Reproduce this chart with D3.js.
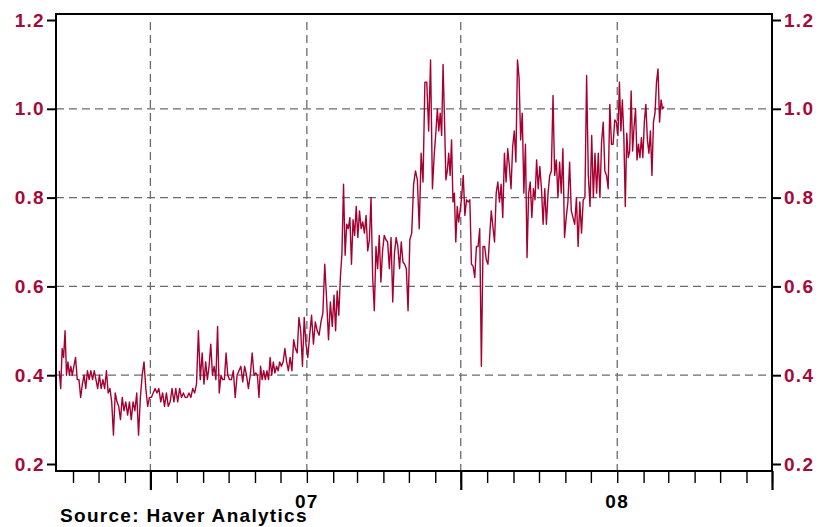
<!DOCTYPE html>
<html>
<head>
<meta charset="utf-8">
<script src="https://cdn.jsdelivr.net/npm/d3@7"></script>
<style>
  html, body { margin: 0; padding: 0; background: #fff; }
  #chart text { font-family: "Liberation Sans", Arial, sans-serif; font-weight: bold; }
</style>
</head>
<body>
<div id="chart"></div>
<script>
// daily readings, one small array per month
const months = ['2006-03', '2006-04', '2006-05', '2006-06', '2006-07', '2006-08', '2006-09', '2006-10',
  '2006-11', '2006-12', '2007-01', '2007-02', '2007-03', '2007-04', '2007-05', '2007-06', '2007-07',
  '2007-08', '2007-09', '2007-10', '2007-11', '2007-12', '2008-01', '2008-02'];

const mar06 = [0.41, 0.37, 0.46, 0.44, 0.50, 0.40, 0.43, 0.40, 0.42, 0.40];
const apr06 = [0.42, 0.44, 0.39, 0.39, 0.35, 0.38, 0.40, 0.37, 0.41, 0.39, 0.41, 0.39, 0.41, 0.39, 0.37];
const may06 = [0.40, 0.37, 0.39, 0.37, 0.41, 0.36, 0.37, 0.34, 0.265, 0.36, 0.34, 0.33, 0.30, 0.35, 0.32];
const jun06 = [0.34, 0.31, 0.34, 0.30, 0.34, 0.32, 0.36, 0.265, 0.35, 0.40, 0.43, 0.37, 0.33, 0.35];
const jul06 = [0.35, 0.36, 0.37, 0.36, 0.37, 0.34, 0.36, 0.33, 0.36, 0.33, 0.34, 0.37, 0.34, 0.37];
const aug06 = [0.34, 0.37, 0.35, 0.36, 0.35, 0.35, 0.36, 0.35, 0.37, 0.36, 0.38, 0.50, 0.39, 0.45];
const sep06 = [0.38, 0.43, 0.39, 0.42, 0.47, 0.40, 0.42, 0.39, 0.51, 0.36, 0.40, 0.39, 0.39, 0.45, 0.40];
const oct06 = [0.39, 0.39, 0.41, 0.35, 0.40, 0.41, 0.42, 0.385, 0.42, 0.40, 0.37, 0.40, 0.45, 0.40];
const nov06 = [0.405, 0.40, 0.35, 0.42, 0.39, 0.41, 0.39, 0.41, 0.39, 0.44, 0.40, 0.43, 0.405, 0.42, 0.41, 0.43];
const dec06 = [0.42, 0.43, 0.46, 0.43, 0.41, 0.44, 0.41, 0.48, 0.46, 0.45, 0.53, 0.50, 0.42, 0.53, 0.47];
const jan07 = [0.44, 0.49, 0.535, 0.47, 0.52, 0.50, 0.49, 0.52, 0.54, 0.65, 0.57, 0.48, 0.565, 0.51];
const feb07 = [0.58, 0.50, 0.59, 0.535, 0.62, 0.675, 0.83, 0.67, 0.74, 0.73, 0.755, 0.65, 0.75, 0.715, 0.78];
const mar07 = [0.71, 0.77, 0.73, 0.745, 0.72, 0.76, 0.68, 0.705, 0.80, 0.62, 0.545, 0.69, 0.64, 0.715, 0.61, 0.68];
const apr07 = [0.715, 0.705, 0.70, 0.64, 0.71, 0.565, 0.675, 0.71, 0.69, 0.64, 0.70, 0.655, 0.65, 0.64, 0.545];
const may07 = [0.705, 0.72, 0.83, 0.86, 0.84, 0.73, 0.90, 0.835, 1.06, 1.06, 0.95, 1.11, 0.82, 0.90];
const jun07 = [0.95, 1.00, 0.95, 0.99, 0.94, 1.10, 0.98, 0.84, 0.86, 0.90, 0.85, 0.93, 0.79, 0.81, 0.70, 0.78, 0.745, 0.77];
const jul07 = [0.80, 0.85, 0.76, 0.795, 0.79, 0.795, 0.65, 0.645, 0.62, 0.69, 0.69, 0.73, 0.42, 0.69, 0.69, 0.66];
const aug07 = [0.65, 0.71, 0.77, 0.735, 0.70, 0.81, 0.835, 0.79, 0.83, 0.755, 0.90, 0.835, 0.91, 0.87, 0.82, 0.915];
const sep07 = [0.95, 0.88, 1.11, 1.07, 0.93, 0.99, 0.81, 0.92, 0.665, 0.81, 0.835, 0.755, 0.82, 0.795, 0.885, 0.82];
const oct07 = [0.87, 0.82, 0.74, 0.82, 0.74, 0.81, 0.85, 0.86, 1.03, 0.85, 0.885, 0.80, 0.88, 0.81, 0.91, 0.71];
const nov07 = [0.755, 0.79, 0.88, 0.77, 0.755, 0.74, 0.80, 0.69, 0.79, 0.72, 0.795, 0.80, 1.075, 0.85, 0.78];
const dec07 = [0.94, 0.80, 0.90, 0.81, 0.90, 0.80, 0.925, 0.97, 0.86, 0.85, 0.82, 1.01, 0.92, 0.92, 0.975, 0.97];
const jan08 = [0.94, 1.06, 0.95, 1.02, 0.94, 0.78, 0.945, 0.89, 0.905, 1.04, 0.905, 0.96, 1.00, 0.885, 0.92, 0.89, 0.935, 0.89];
const feb08 = [0.97, 1.01, 0.93, 0.90, 0.95, 0.85, 0.97, 0.99, 1.06, 1.09, 0.97, 1.02, 1.00, 1.005];

const monthValues = [mar06, apr06, may06, jun06, jul06, aug06, sep06, oct06, nov06, dec06,
  jan07, feb07, mar07, apr07, may07, jun07, jul07, aug07, sep07, oct07, nov07, dec07, jan08, feb08];

const dataStart = '2006-03-15';
const dataEnd = '2008-02-26';
const axisStart = '2006-03-12';
const axisEnd = '2008-07-01';

const yTicks = [0.2, 0.4, 0.6, 0.8, 1.0, 1.2];
const yGrid = [0.4, 0.6, 0.8, 1.0];
const xGrid = ['2006-07-01', '2007-01-01', '2007-07-01', '2008-01-01'];
const yearTicks = ['2007-01-01', '2008-01-01'];
const yearLabels = ['07', '08'];

const red = '#a6093a';
const lineRed = '#a60030';
const parseDay = d3.timeParse('%Y-%m-%d');
const parseMonth = d3.timeParse('%Y-%m');

// spread each month's readings evenly over the days it covers
const start = parseDay(dataStart);
const end = parseDay(dataEnd);
const points = [];
months.forEach((m, i) => {
  const m0 = parseMonth(m);
  const m1 = d3.timeMonth.offset(m0, 1);
  const s = Math.max(+m0, +start);
  const e = Math.min(+m1, +end);
  const vals = monthValues[i];
  vals.forEach((v, j) => {
    points.push({ date: new Date(s + ((j + 0.5) / vals.length) * (e - s)), value: v });
  });
});

const container = d3.select('#chart');

function draw() {
  container.html('');

  var margin = { top: 14, right: 49, bottom: 56, left: 56 };
  var width = 821 - margin.left - margin.right;
  var height = 527 - margin.top - margin.bottom;

  var svg = container
    .append('svg')
    .attr('width', 821)
    .attr('height', 527)
    .append('g')
    .attr('transform', 'translate(' + margin.left + ',' + margin.top + ')');

  var x = d3.scaleTime()
    .domain([parseDay(axisStart), parseDay(axisEnd)])
    .range([0, width]);

  // 1.2 and 0.2 sit a little inside the frame
  var y = d3.scaleLinear()
    .domain([0.2, 1.2])
    .range([height - 7, 6]);

  // dashed grid
  svg.append('g')
    .selectAll('line')
    .data(yGrid)
    .join('line')
    .attr('x1', 0)
    .attr('x2', width)
    .attr('y1', d => y(d))
    .attr('y2', d => y(d))
    .style('stroke', '#6b6b6b')
    .style('stroke-width', 1.3)
    .style('stroke-dasharray', '8,5');

  svg.append('g')
    .selectAll('line')
    .data(xGrid.map(parseDay))
    .join('line')
    .attr('x1', d => x(d))
    .attr('x2', d => x(d))
    .attr('y1', 8)
    .attr('y2', height)
    .style('stroke', '#6b6b6b')
    .style('stroke-width', 1.3)
    .style('stroke-dasharray', '8,5');

  // the series
  var line = d3.line()
    .x(d => x(d.date))
    .y(d => y(d.value));

  svg.append('path')
    .datum(points)
    .attr('d', line)
    .style('fill', 'none')
    .style('stroke', lineRed)
    .style('stroke-width', 1.4)
    .style('stroke-linejoin', 'round');

  // frame
  svg.append('rect')
    .attr('x', 0)
    .attr('y', 0)
    .attr('width', width)
    .attr('height', height)
    .style('fill', 'none')
    .style('stroke', '#000')
    .style('stroke-width', 2);

  // y axes, left and right
  var fmt = d3.format('.1f');
  var left = svg.append('g')
    .call(d3.axisLeft(y).tickValues(yTicks).tickFormat(fmt).tickSize(9).tickPadding(2));
  var right = svg.append('g')
    .attr('transform', 'translate(' + width + ',0)')
    .call(d3.axisRight(y).tickValues(yTicks).tickFormat(fmt).tickSize(9).tickPadding(3));

  [left, right].forEach(g => {
    g.select('.domain').remove();
    g.selectAll('line').style('stroke', '#000').style('stroke-width', 2);
    g.selectAll('text')
      .style('fill', red)
      .style('font-size', '19px')
      .style('letter-spacing', '1.3px');
  });

  // monthly ticks, longer ones at July
  var minor = svg.append('g')
    .attr('transform', 'translate(0,' + height + ')')
    .call(d3.axisBottom(x).ticks(d3.timeMonth.every(1)).tickSize(12).tickFormat(''));
  minor.select('.domain').remove();
  minor.selectAll('line').style('stroke', '#000').style('stroke-width', 1.4);

  var major = svg.append('g')
    .attr('transform', 'translate(0,' + height + ')')
    .call(d3.axisBottom(x).ticks(d3.timeMonth.filter(d => d.getMonth() === 6)).tickSize(19).tickFormat(''));
  major.select('.domain').remove();
  major.selectAll('line').style('stroke', '#000').style('stroke-width', 2.2);

  // year labels
  svg.append('g')
    .selectAll('text')
    .data(yearTicks)
    .join('text')
    .attr('x', d => x(parseDay(d)))
    .attr('y', height + 37)
    .attr('text-anchor', 'middle')
    .text((d, i) => yearLabels[i])
    .style('font-size', '19px')
    .style('letter-spacing', '1.3px')
    .style('fill', '#000');

  svg.append('text')
    .text('Source: Haver Analytics')
    .attr('x', 4)
    .attr('y', height + 51)
    .attr('text-anchor', 'start')
    .style('font-size', '19px')
    .style('letter-spacing', '1.3px')
    .style('fill', '#000');
}

draw();
</script>
</body>
</html>
